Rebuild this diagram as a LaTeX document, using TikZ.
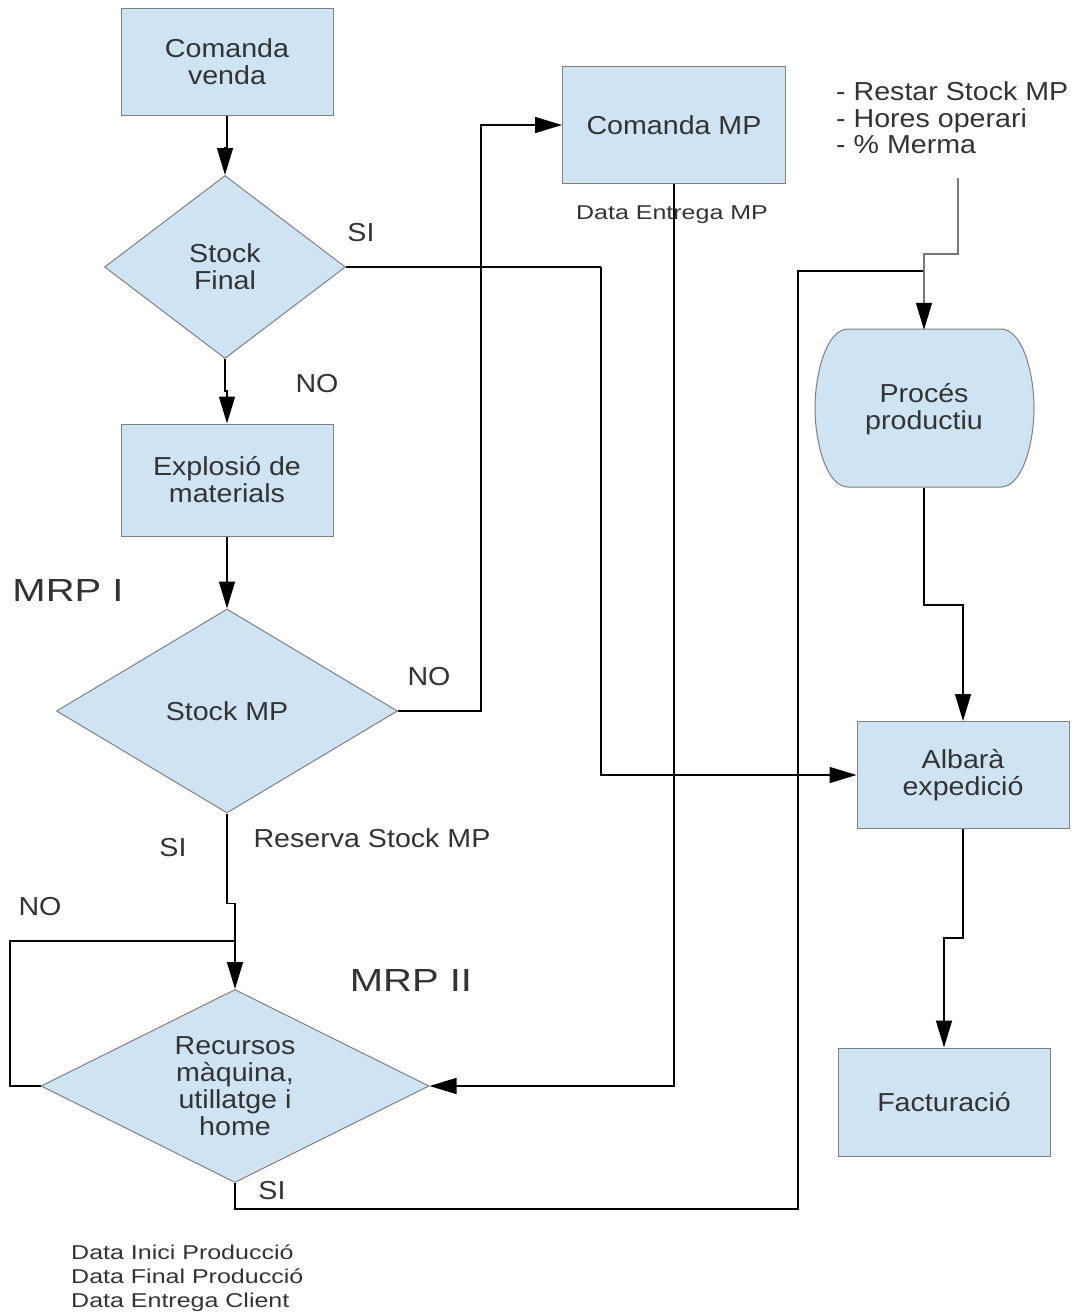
\documentclass[tikz,border=0pt]{standalone}
\usepackage{fontspec}
\setmainfont[FakeStretch=1.1]{Liberation Sans}
\newfontfamily\bigfam[FakeStretch=1.25]{Liberation Sans}
\usetikzlibrary{shapes.geometric,arrows.meta,calc}
\definecolor{boxfill}{RGB}{207,228,243}
\definecolor{boxline}{RGB}{128,128,128}
\definecolor{txt}{RGB}{51,51,51}
\definecolor{thinline}{RGB}{120,120,120}
\newcommand{\nfont}{\fontsize{26}{27}\selectfont}
\newcommand{\bigfont}{\bigfam\fontsize{32}{38}\selectfont}
\newcommand{\smallfont}{\bigfam\fontsize{20}{24}\selectfont}
\tikzset{
  box/.style={rectangle, draw=boxline, fill=boxfill, line width=1pt, minimum width=212pt, minimum height=107pt, align=center, font=\nfont, text=txt, inner sep=0pt},
  dia/.style={diamond, draw=boxline, fill=boxfill, line width=1pt, aspect=2, inner sep=0pt, align=center, font=\nfont, text=txt},
  conn/.style={draw=black, line width=1.5pt},
  arr/.style={conn, -{Triangle[length=27pt,width=16pt]}},
  lbl/.style={font=\nfont, text=txt, inner sep=0pt},
}
\begin{document}
\begin{tikzpicture}[x=1pt,y=-1pt]
\useasboundingbox (0,0) rectangle (1077,1314);

% nodes
\node[box] (cv) at (227,62) {Comanda\\venda};
\node[dia, minimum width=241pt, minimum height=183pt] (sf) at (225,267) {Stock\\Final};
\node[box, minimum height=112pt] (ex) at (227,480) {Explosió de\\materials};
\node[dia, minimum width=341pt, minimum height=204pt] (smp) at (227,711) {Stock MP};
\node[dia, minimum width=388pt, minimum height=193pt] (rec) at (235,1086) {Recursos\\màquina,\\utillatge i\\home};
\node[box, minimum width=223pt, minimum height=117pt] (cmp) at (674,125) {Comanda MP};
\draw[draw=boxline, fill=boxfill, line width=1pt]
  (848,329) -- (1001,329) .. controls (1022,329) and (1034,372) .. (1034,408)
  .. controls (1034,444) and (1022,487) .. (1001,487) -- (848,487)
  .. controls (827,487) and (815,444) .. (815,408)
  .. controls (815,372) and (827,329) .. (848,329) -- cycle;
\node[rectangle, minimum width=219pt, minimum height=158pt, align=center, font=\nfont, text=txt, inner sep=0pt] (proc) at (924,409) {Procés\\productiu};
\node[box, minimum height=107pt] (alb) at (963,775) {Albarà\\expedició};
\node[box, minimum height=108pt] (fac) at (944,1102) {Facturació};

% labels
\node[lbl] (l1) at (361,233) {SI};
\node[lbl] (l2) at (317,384) {NO};
\node[lbl, font=\bigfont] (l3) at (68,590) {MRP I};
\node[lbl] (l4) at (429,677) {NO};
\node[lbl] (l5) at (173,848) {SI};
\node[lbl] (l6) at (372,838) {Reserva Stock MP};
\node[lbl] (l7) at (40,907) {NO};
\node[lbl, font=\bigfont] (l8) at (411,980) {MRP II};
\node[lbl] (l9) at (272,1191) {SI};
\node[lbl, font=\smallfont] (l10) at (672,215) {Data Entrega MP};
\node[lbl, font=\fontsize{26}{26.5}\selectfont, align=left, anchor=west] (notes) at (836,118) {- Restar Stock MP\\- Hores operari\\- \% Merma};
\node[lbl, font=\smallfont, align=left, anchor=west] (dates) at (71,1278) {Data Inici Producció\\Data Final Producció\\Data Entrega Client};

% junction coordinates
\coordinate (j1) at (924,271);
\coordinate (j2) at (235,941);
\coordinate (nt) at (958,178);

% connectors
\draw[arr] (cv.south) -- ++(0,32) -| (sf.north);
\draw[arr] (sf.south) -- ++(0,32) -| (ex.north);
\draw[conn] (sf.east) -- ++(255,0) coordinate (c1);
\draw[arr] (c1) |- (alb.west);
\draw[arr] (ex.south) -- (smp.north);
\draw[arr] (smp.east) -- ++(83,0) |- (cmp.west);
\draw[arr] (cmp.south) |- (rec.east);
\draw[arr] (smp.south) -- ++(0,90) -| (rec.north);
\draw[conn] (rec.west) -| (10,941) -- (j2);
\draw[conn] (rec.south) -- ++(0,26) -| (798,271) -- (j1);
\draw[draw=thinline, line width=1.2pt, -{Triangle[length=27pt,width=16pt,color=black]}] (nt) -- (958,254) -- (924,254) -- (proc.north);
\draw[arr] (proc.south) -- ++(0,117) -| (alb.north);
\draw[arr] (alb.south) -- ++(0,109) -| (fac.north);
\end{tikzpicture}
\end{document}
